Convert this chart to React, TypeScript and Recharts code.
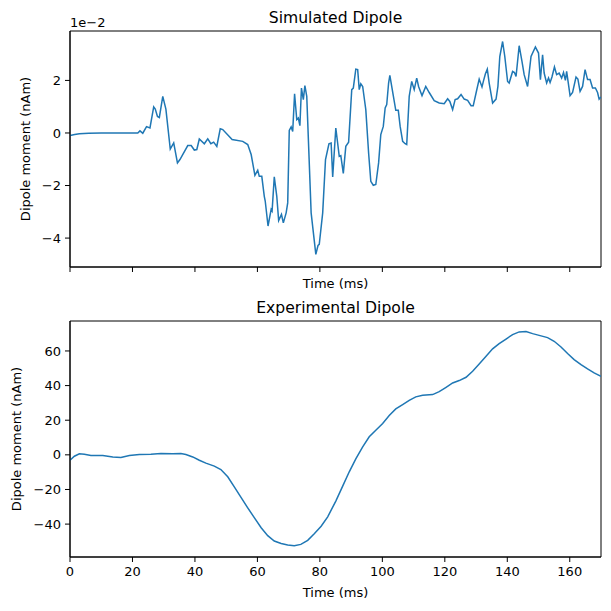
import { LineChart, Line, XAxis, YAxis, ReferenceArea, Label } from 'recharts'

// simulated dipole, values in units of 1e-2 nAm
const simTime = [
  0, 1.5, 3, 6, 10, 21.7, 22.4, 23.3, 24.5, 25.6, 26.8, 27.3, 28, 28.6, 29.7, 30.7,
  32.1, 33.2, 34.4, 35.2, 37.7, 38.8, 39.8, 40.6, 41.4, 43, 44.1, 45.1, 46, 47,
  48.1, 48.9, 51.9, 55.3, 56.9, 58, 59.2, 60.1, 60.6, 61.4, 62.2, 62.5, 63.4, 64.4,
  64.7, 65.4, 66.2, 66.8, 67.7, 68.3, 69.2, 69.7, 70.2, 70.8, 71.3, 71.9, 72.6, 73.1,
  73.6, 74.1, 74.7, 75.2, 75.8, 77.2, 78.7, 79.4, 79.8, 80.9, 81.8, 82.9, 83.6, 84.1,
  85.1, 86.2, 86.7, 87.5, 88.3, 89.2, 90.2, 90.7, 91.5, 92.1, 92.6, 93.1, 93.7, 94.7,
  95.6, 96.3, 97.1, 97.9, 98.8, 99.5, 100.3, 100.9, 101.4, 102, 102.4, 103.5, 104.3,
  105.1, 105.7, 106.5, 107.3, 107.8, 108.6, 109.4, 110.2, 111, 111.6, 112.7, 113.9,
  115, 116.6, 118.2, 119.8, 120.9, 121.6, 122.5, 123.3, 124.1, 125.2, 126.2, 127.3,
  128.4, 129.1, 130, 131, 131.9, 132.4, 133, 133.6, 134.2, 135.3, 136.4, 137, 137.6,
  138.5, 139.2, 140.1, 140.6, 141.7, 142.3, 142.8, 143.8, 144.7, 145.4, 146.5, 147.6,
  149, 150, 150.6, 151.3, 151.8, 152.6, 153.2, 153.7, 154.3, 155.1, 155.8, 156.6,
  157.4, 158, 158.6, 159, 160.1, 160.9, 162, 162.6, 163.3, 164.1, 164.9, 165.7, 166.5,
  167.3, 168.2, 168.9, 169.4, 170,
]
const simDipole = [
  -0.1, -0.06, -0.03, -0.01, 0, 0, 0.08, -0.01, 0.24, 0.19, 0.99, 0.91, 0.63, 0.59, 1.39, 0.91,
  -0.61, -0.38, -1.14, -1.01, -0.48, -0.48, -0.65, -0.63, -0.23, -0.41, -0.22, -0.41, -0.35, -0.51,
  0.16, 0.13, -0.25, -0.32, -0.44, -0.82, -1.61, -1.42, -1.65, -1.65, -2.41, -2.59, -3.54, -2.91,
  -2.97, -1.67, -2.41, -3.33, -3.1, -3.42, -3.04, -2.66, 0.1, 0.23, 0.06, 1.49, 0.51, 0.57,
  0.28, 1.71, 1.27, 1.8, 1.39, -3.04, -4.62, -4.28, -4.24, -3.04, -1.01, -0.41, -0.38, -1.67,
  0.19, -0.89, -0.86, -1.54, -0.51, -0.35, 1.65, 1.71, 2.43, 2.41, 1.65, 1.87, 1.77, 0.89,
  -0.76, -1.84, -1.99, -1.96, -1.14, -0.06, 0.25, 0.95, 1.08, 1.9, 2.19, 1.42, 0.86,
  0.86, 0.25, -0.32, -0.41, -0.44, 1.39, 1.96, 1.65, 2.09, 1.77, 1.42, 1.77,
  1.54, 1.23, 1.14, 1.11, 1.3, 1.2, 0.89, 1.27, 1.3, 1.46, 1.29, 1.24,
  1.04, 1.04, 1.52, 2.05, 1.75, 1.99, 2.25, 2.43, 1.9, 1.14, 1.29, 1.77, 2.91,
  3.48, 2.91, 1.96, 1.9, 2.34, 2.3, 2.15, 3.32, 2.72, 2.22, 1.77, 2.91,
  3.27, 3.04, 2.03, 2.97, 2.28, 1.9, 2.09, 1.92, 2.13, 2.51, 2.22, 2.28,
  2.09, 2.3, 2.0, 2.34, 1.42, 1.54, 2.13, 2.05, 1.58, 1.77, 2.41, 2.03, 2.03,
  1.71, 1.71, 1.54, 1.29, 1.37,
]

// experimental dipole, nAm
const expTime = [
  0, 1.4, 3, 4.6, 6.7, 10.5, 13.7, 16.3, 19, 22.2, 25.9, 29.1, 32.9, 35.5, 37.1, 39.3,
  41.4, 43.5, 46.2, 48.3, 50.5, 52.6, 54.7, 56.9, 59, 61.2, 63.3, 65.4, 67.6, 69.7,
  71.8, 73.9, 76.1, 78.2, 80.4, 82.5, 85.1, 87.3, 89.4, 91.5, 93.7, 95.8, 97.9, 100.1,
  102.2, 104.3, 106.5, 108.6, 110.7, 112.9, 116.1, 118.2, 120.4, 122.5, 124.6, 126.8,
  128.9, 131, 133.2, 135.3, 137.4, 139.6, 141.7, 143.8, 146, 148.1, 150.2, 152.9, 155,
  157.2, 159.3, 161.4, 163.6, 165.7, 167.8, 170,
]
const expDipole = [
  -3.1, -0.8, 0.6, 0.4, -0.4, -0.4, -1.2, -1.5, -0.4, 0.2, 0.4, 0.8, 0.6, 0.8, 0.2, -1.2,
  -3.1, -4.8, -6.5, -8.5, -12.7, -18.5, -24.4, -30.6, -36.3, -42.1, -46.7, -49.8, -51.2, -52.1,
  -52.5, -51.7, -49.4, -45.6, -41.2, -35.8, -26.7, -18.1, -9.8, -2.3, 4.6, 10.4, 14.2, 18.1,
  22.7, 26.5, 29, 31.5, 33.5, 34.4, 34.8, 36.5, 39, 41.5, 42.9, 44.8,
  48.3, 52.5, 56.9, 61.2, 64.2, 66.9, 69.4, 71, 71.2, 70, 69, 67.7, 65.6,
  62.3, 58.5, 55, 52.1, 49.6, 47.3, 45.4,
]

const timeTicks = [0, 20, 40, 60, 80, 100, 120, 140, 160]
const simTicks = [-4, -2, 0, 2]
const expTicks = [-40, -20, 0, 20, 40, 60]

const simData = simTime.map((t, i) => ({ t, v: simDipole[i] }))
const expData = expTime.map((t, i) => ({ t, v: expDipole[i] }))

const FONT = '"DejaVu Sans", sans-serif'
const BLUE = '#1f77b4'
const SIM_DOMAIN: [number, number] = [-5.1, 3.88]
const EXP_DOMAIN: [number, number] = [-59, 77.3]

const fmt = (v: number) => (v < 0 ? `\u2212${-v}` : `${v}`)
const tickStyle = { fill: '#000', fontSize: 13, fontFamily: FONT }

function fixedText(x: number, y: number, txt: string, size: number, rotate = false) {
  return () => (
    <text
      x={x}
      y={y}
      textAnchor="middle"
      fontSize={size}
      fontFamily={FONT}
      fill="#000"
      transform={rotate ? `rotate(-90 ${x} ${y})` : undefined}
    >
      {txt}
    </text>
  )
}

function DipolePanel({ data, domain, yTicks, title, showTimeTicks, labelX, offsetText }: any) {
  const height = showTimeTicks ? 321 : 300
  const xAxisHeight = showTimeTicks ? 54 : 33
  const plotBottom = height - xAxisHeight
  return (
    <LineChart width={611} height={height} data={data} margin={{ top: 31, right: 10, bottom: 0, left: 0 }}>
      <XAxis
        dataKey="t"
        type="number"
        domain={[0, 170]}
        ticks={timeTicks}
        tickFormatter={showTimeTicks ? fmt : () => ''}
        height={xAxisHeight}
        stroke="#000"
        tickSize={5}
        tickMargin={5}
        tick={tickStyle}
        allowDataOverflow
      >
        <Label content={fixedText(335.5, showTimeTicks ? plotBottom + 40 : plotBottom + 21, 'Time (ms)', 13)} />
      </XAxis>
      <YAxis
        type="number"
        domain={domain}
        ticks={yTicks}
        tickFormatter={fmt}
        width={70}
        stroke="#000"
        tickSize={5}
        tickMargin={4}
        tick={tickStyle}
        allowDataOverflow
      >
        <Label content={fixedText(labelX, 31 + (plotBottom - 31) / 2, 'Dipole moment (nAm)', 13, true)} />
      </YAxis>
      <ReferenceArea x1={0} x2={170} y1={domain[0]} y2={domain[1]} fill="none" stroke="#000" strokeWidth={1} />
      <Line dataKey="v" stroke={BLUE} strokeWidth={1.5} dot={false} isAnimationActive={false} />
      <text x={335.5} y={23} textAnchor="middle" fontSize={15.6} fontFamily={FONT} fill="#000">
        {title}
      </text>
      {offsetText && (
        <text x={70} y={26.5} fontSize={13} fontFamily={FONT} fill="#000">
          {offsetText}
        </text>
      )}
    </LineChart>
  )
}

export default function App() {
  return (
    <div style={{ position: 'absolute', left: 0, top: 0, width: 611, height: 611, background: '#fff' }}>
      <div style={{ position: 'absolute', left: 0, top: 0 }}>
        <DipolePanel
          data={simData}
          domain={SIM_DOMAIN}
          yTicks={simTicks}
          title="Simulated Dipole"
          showTimeTicks={false}
          labelX={30}
          offsetText={'1e\u22122'}
        />
      </div>
      <div style={{ position: 'absolute', left: 0, top: 290 }}>
        <DipolePanel
          data={expData}
          domain={EXP_DOMAIN}
          yTicks={expTicks}
          title="Experimental Dipole"
          showTimeTicks
          labelX={20.5}
        />
      </div>
    </div>
  )
}
